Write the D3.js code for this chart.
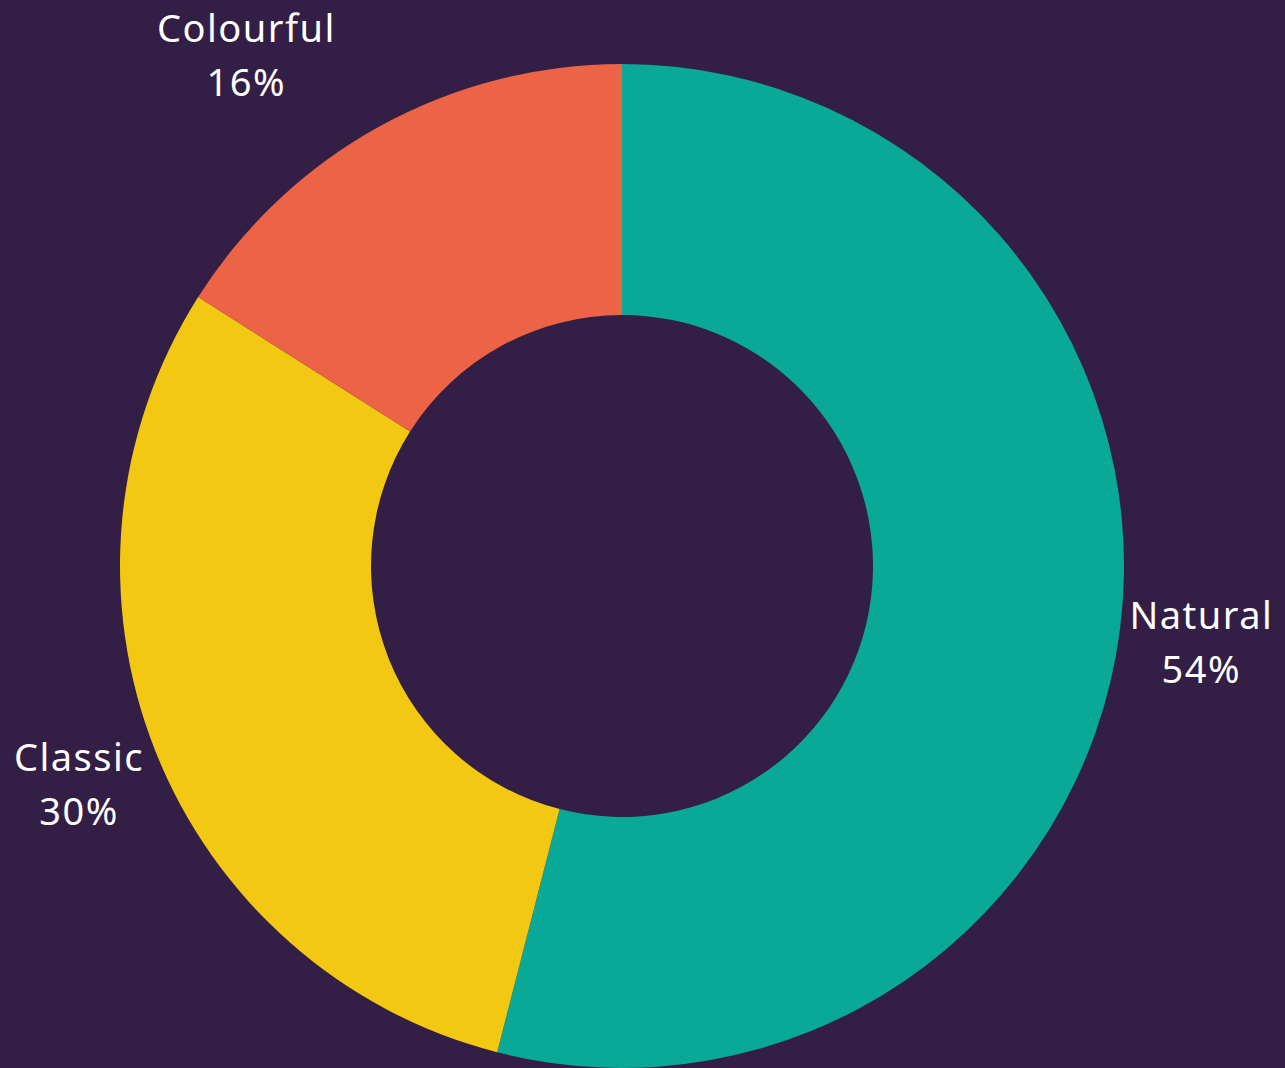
<!DOCTYPE html>
<html>
<head>
<meta charset="utf-8">
<script src="https://cdn.jsdelivr.net/npm/d3@7"></script>
<style>
  html, body { margin: 0; padding: 0; background: #331e45; }
  svg { display: block; }
</style>
</head>
<body>
<div id="chart"></div>
<script>
const categories = ["Natural", "Classic", "Colourful"];
const values = [54, 30, 16];
const colors = ["#0aa896", "#f2c813", "#ec6445"];

const width = 1285;
const height = 1068;
const cx = 622, cy = 566;
const outerR = 502, innerR = 251;
const labelR = 584;
// the top label sits further out and turned a little, as in the source
const labelAdjust = { Colourful: { da: -0.128, r: 637 } };

const data = categories.map((c, i) => ({ name: c, value: values[i], color: colors[i] }));

const svg = d3.select("#chart").append("svg")
  .attr("width", width)
  .attr("height", height);

svg.append("rect")
  .attr("width", width)
  .attr("height", height)
  .attr("fill", "#331e45");

const g = svg.append("g")
  .attr("transform", "translate(" + cx + "," + cy + ")");

const pie = d3.pie().sort(null).value((d) => d.value);
const arc = d3.arc().innerRadius(innerR).outerRadius(outerR);
const arcs = pie(data);

g.selectAll("path")
  .data(arcs)
  .join("path")
  .attr("d", arc)
  .attr("fill", (d) => d.data.color);

// Labels
const labels = g.selectAll("text")
  .data(arcs)
  .join("text")
  .attr("text-anchor", "middle")
  .attr("fill", "#ffffff")
  .style("font-family", "'Noto Sans', sans-serif")
  .style("font-size", "38px")
  .style("letter-spacing", "1.5px")
  .attr("transform", (d) => {
    const adj = labelAdjust[d.data.name] || {};
    const a = (d.startAngle + d.endAngle) / 2 + (adj.da || 0);
    const r = adj.r || labelR;
    const x = r * Math.sin(a);
    const y = -r * Math.cos(a);
    return "translate(" + x + "," + y + ")";
  });

labels.append("tspan")
  .attr("x", 0)
  .attr("y", -10)
  .text((d) => d.data.name);

labels.append("tspan")
  .attr("x", 0)
  .attr("y", 44)
  .text((d) => d.data.value + "%");
</script>
</body>
</html>
